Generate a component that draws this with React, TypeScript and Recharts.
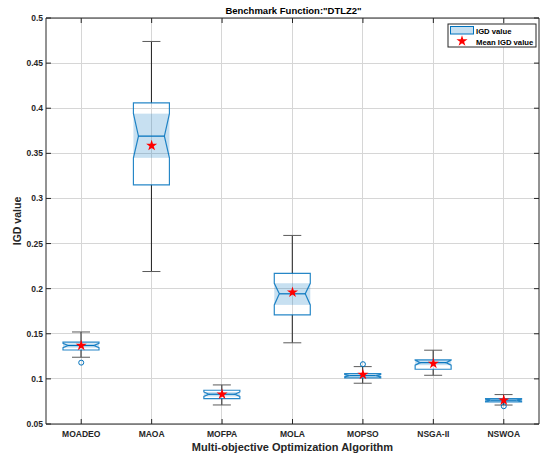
import {
  Bar,
  CartesianGrid,
  ComposedChart,
  Scatter,
  Symbols,
  XAxis,
  YAxis,
} from "recharts";

const algorithms = ["MOADEO", "MAOA", "MOFPA", "MOLA", "MOPSO", "NSGA-II", "NSWOA"];
const whiskerHi = [0.152, 0.474, 0.0933, 0.259, 0.1136, 0.1318, 0.0826];
const q3 = [0.1407, 0.406, 0.0874, 0.217, 0.1059, 0.121, 0.0781];
const notchHi = [0.1394, 0.394, 0.0855, 0.206, 0.1049, 0.1208, 0.0774];
const median = [0.137, 0.369, 0.083, 0.1943, 0.1036, 0.118, 0.0764];
const notchLo = [0.1346, 0.345, 0.0805, 0.182, 0.1023, 0.1152, 0.0754];
const q1 = [0.132, 0.315, 0.0781, 0.171, 0.1011, 0.1107, 0.0745];
const whiskerLo = [0.124, 0.219, 0.0711, 0.14, 0.0952, 0.104, 0.071];
const means = [0.137, 0.3585, 0.083, 0.196, 0.1047, 0.117, 0.0764];
const outliers = [0.118, null, null, null, 0.1163, null, 0.0697];
const yTicks = [0.05, 0.1, 0.15, 0.2, 0.25, 0.3, 0.35, 0.4, 0.45, 0.5];

const chartData = algorithms.map((name, i) => ({
  name,
  lo: whiskerLo[i],
  q1: q1[i],
  nLo: notchLo[i],
  med: median[i],
  nHi: notchHi[i],
  q3: q3[i],
  hi: whiskerHi[i],
  mean: means[i],
  outlier: outliers[i],
}));

const BLUE = "#0072BD";
const INK = "#262626";
const GRID = "#d6d6d6";
const FONT = "Liberation Sans, Arial, Helvetica, sans-serif";
const CHART_H = 461;
const X_AXIS_H = 37;
const PLOT_TOP = 18;
const PLOT_BOTTOM = CHART_H - X_AXIS_H;

const ok = (v: any) => typeof v === "number" && Number.isFinite(v);

// box, notch and whiskers, positioned from the bar's own [lo, hi] pixels
const BoxShape = (props: any) => {
  const { x, y, width, height, payload, background } = props;
  const top = Math.min(y, y + height);
  const bottom = Math.max(y, y + height);
  const k = (bottom - top) / (payload.hi - payload.lo);
  const py = (v: number) => bottom - (v - payload.lo) * k;
  const cx = x + width / 2;
  const hw = width / 2;
  const nw = hw * 0.72;
  const cap = hw / 2;
  const hasBg = background && ok(background.y) && ok(background.height) && background.height > 0;
  const gTop = hasBg ? background.y : PLOT_TOP;
  const gBottom = hasBg ? background.y + background.height : PLOT_BOTTOM;
  const outline = [
    [cx - hw, py(payload.q1)],
    [cx - hw, py(payload.nLo)],
    [cx - nw, py(payload.med)],
    [cx - hw, py(payload.nHi)],
    [cx - hw, py(payload.q3)],
    [cx + hw, py(payload.q3)],
    [cx + hw, py(payload.nHi)],
    [cx + nw, py(payload.med)],
    [cx + hw, py(payload.nLo)],
    [cx + hw, py(payload.q1)],
  ]
    .map((p, i) => `${i ? "L" : "M"}${p[0]},${p[1]}`)
    .join(" ");
  return (
    <g>
      {/* vertical grid line of this category, kept under the box */}
      <line x1={cx} x2={cx} y1={gTop} y2={gBottom} stroke={GRID} strokeWidth={1} shapeRendering="crispEdges" />
      <line x1={cx} x2={cx} y1={py(payload.hi)} y2={py(payload.q3)} stroke="#1f1f1f" />
      <line x1={cx} x2={cx} y1={py(payload.q1)} y2={py(payload.lo)} stroke="#1f1f1f" />
      <line x1={cx - cap} x2={cx + cap} y1={py(payload.hi)} y2={py(payload.hi)} stroke="#5a5a5a" />
      <line x1={cx - cap} x2={cx + cap} y1={py(payload.lo)} y2={py(payload.lo)} stroke="#5a5a5a" />
      <rect
        x={cx - hw}
        y={py(payload.nHi)}
        width={width}
        height={py(payload.nLo) - py(payload.nHi)}
        fill={BLUE}
        fillOpacity={0.22}
      />
      <path d={outline + " Z"} fill="none" stroke={BLUE} strokeWidth={1.2} strokeOpacity={0.85} />
      <line
        x1={cx - nw}
        x2={cx + nw}
        y1={py(payload.med)}
        y2={py(payload.med)}
        stroke={BLUE}
        strokeWidth={1.2}
      />
    </g>
  );
};

const MeanStar = (props: any) => (
  <Symbols cx={props.cx} cy={props.cy} type="star" size={38} fill="#ff0000" />
);

const OutlierDot = (props: any) => {
  if (props.payload.outlier == null) return null;
  return <circle cx={props.cx} cy={props.cy} r={2.5} fill="none" stroke={BLUE} />;
};

const LeftTick = ({ x, y, payload }: any) => (
  <g>
    <line x1={x} x2={x + 5} y1={y} y2={y} stroke={INK} />
    <text x={x - 3} y={y} textAnchor="end" dominantBaseline="central" fontSize={8.5} fontWeight="bold" fill={INK} fontFamily={FONT}>
      {String(payload.value)}
    </text>
  </g>
);

const RightTick = ({ x, y }: any) => <line x1={x - 5} x2={x} y1={y} y2={y} stroke={INK} />;

// bottom tick: label plus the inward tick marks on the bottom and top frame
const BottomTick = ({ x, y, payload }: any) => (
  <g>
    <line x1={x} x2={x} y1={y - 5} y2={y} stroke={INK} />
    <line x1={x} x2={x} y1={PLOT_TOP} y2={PLOT_TOP + 5} stroke={INK} />
    <text x={x} y={y + 13} textAnchor="middle" fontSize={8.5} fontWeight="bold" fill={INK} fontFamily={FONT}>
      {payload.value}
    </text>
  </g>
);

const Legend = () => (
  <svg
    width={90}
    height={25}
    style={{ position: "absolute", left: 447, top: 23 }}
    fontFamily={FONT}
    fontWeight="bold"
    fontSize={7.7}
  >
    <rect x={1} y={1} width={88} height={23} fill="#fff" stroke={INK} />
    <rect x={3.5} y={3.5} width={23} height={7.5} fill={BLUE} fillOpacity={0.22} stroke={BLUE} />
    <text x={29} y={10.5} fill="#000">IGD value</text>
    <Symbols cx={15} cy={18} type="star" size={38} fill="#ff0000" />
    <text x={29} y={21.5} fill="#000">Mean IGD value</text>
  </svg>
);

const BoxPlotChart = () => {
  return (
    <div style={{ position: "absolute", left: 0, top: 0, width: 545, height: CHART_H, background: "#fff" }}>
      <div
        style={{
          position: "absolute",
          left: 46,
          width: 495,
          top: 5,
          textAlign: "center",
          fontFamily: FONT,
          fontWeight: "bold",
          fontSize: 9.5,
          lineHeight: "12px",
          color: "#000",
        }}
      >
        Benchmark Function:"DTLZ2"
      </div>
      <ComposedChart
        width={545}
        height={CHART_H}
        data={chartData}
        margin={{ top: PLOT_TOP - 1, right: 5, bottom: 0, left: 0 }}
        style={{ position: "absolute", left: 0, top: 0 }}
      >
        <CartesianGrid stroke={GRID} vertical={false} shapeRendering="crispEdges" />
        <XAxis
          dataKey="name"
          height={X_AXIS_H}
          stroke={INK}
          tickLine={false}
          tickSize={0}
          tickMargin={0}
          tick={<BottomTick />}
          interval={0}
          label={{
            content: ({ viewBox }: any) => (
              <text x={viewBox.x + viewBox.width / 2} y={viewBox.y + 27} textAnchor="middle" fontSize={11} fontWeight="bold" fill={INK} fontFamily={FONT}>
                Multi-objective Optimization Algorithm
              </text>
            ),
          }}
        />
        <XAxis
          xAxisId="t"
          dataKey="name"
          orientation="top"
          height={1}
          stroke={INK}
          tickLine={false}
          tick={false}
        />
        <YAxis
          type="number"
          domain={[0.05, 0.5]}
          ticks={yTicks}
          allowDataOverflow
          width={46}
          stroke={INK}
          tickLine={false}
          tickSize={0}
          tickMargin={0}
          tick={<LeftTick />}
          interval={0}
          label={{
            content: ({ viewBox }: any) => {
              const cy = viewBox.y + viewBox.height / 2;
              return (
                <text x={21} y={cy} transform={`rotate(-90, 21, ${cy})`} textAnchor="middle" fontSize={10.5} fontWeight="bold" fill={INK} fontFamily={FONT}>
                  IGD value
                </text>
              );
            },
          }}
        />
        <YAxis
          yAxisId="r"
          orientation="right"
          type="number"
          domain={[0.05, 0.5]}
          ticks={yTicks}
          allowDataOverflow
          width={1}
          stroke={INK}
          tickLine={false}
          tickSize={0}
          tickMargin={0}
          tick={<RightTick />}
          interval={0}
        />
        <Bar
          dataKey={(d: any) => [d.lo, d.hi]}
          barSize={36}
          shape={<BoxShape />}
          isAnimationActive={false}
        />
        <Scatter yAxisId="r" dataKey="outlier" shape={<OutlierDot />} isAnimationActive={false} />
        <Scatter dataKey="mean" shape={<MeanStar />} isAnimationActive={false} />
      </ComposedChart>
      <Legend />
    </div>
  );
};

export default BoxPlotChart;
